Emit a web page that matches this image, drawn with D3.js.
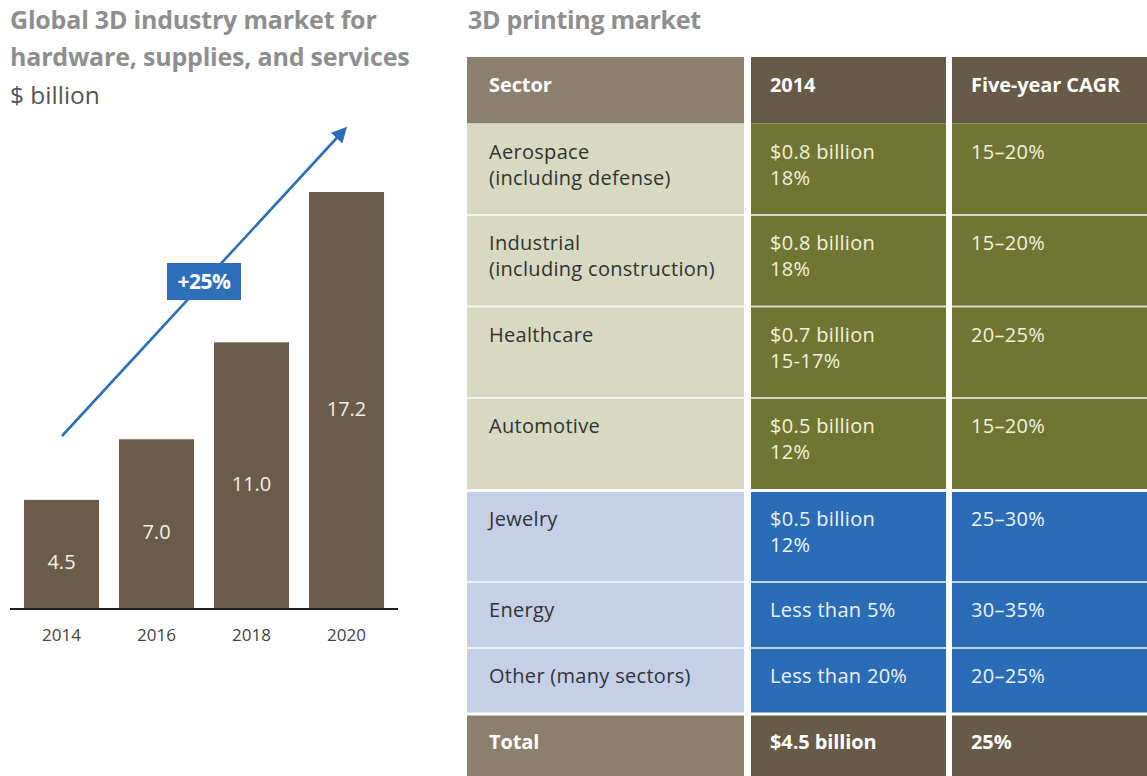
<!DOCTYPE html>
<html>
<head>
<meta charset="utf-8">
<script src="https://cdn.jsdelivr.net/npm/d3@7/dist/d3.min.js"></script>
<style>
  body { margin: 0; background: #fff; }
  svg { display: block; font-family: "Open Sans", Roboto, sans-serif; }
</style>
</head>
<body>
<svg id="chart"></svg>
<script>
// left chart data
const years = ['2014', '2016', '2018', '2020'];
const marketValues = [4.5, 7.0, 11.0, 17.2];
const growthLabel = '+25%';

// table data
const columns = ['Sector', '2014', 'Five-year CAGR'];
const sectors = [
  ['Aerospace', '(including defense)'],
  ['Industrial', '(including construction)'],
  ['Healthcare'],
  ['Automotive'],
  ['Jewelry'],
  ['Energy'],
  ['Other (many sectors)']
];
const values2014 = [
  ['$0.8 billion', '18%'],
  ['$0.8 billion', '18%'],
  ['$0.7 billion', '15-17%'],
  ['$0.5 billion', '12%'],
  ['$0.5 billion', '12%'],
  ['Less than 5%'],
  ['Less than 20%']
];
const cagr = ['15–20%', '15–20%', '20–25%', '15–20%', '25–30%', '30–35%', '20–25%'];
const sectorGroup = ['olive', 'olive', 'olive', 'olive', 'blue', 'blue', 'blue'];
const totalRow = ['Total', '$4.5 billion', '25%'];

const W = 1147, H = 776;
const svg = d3.select('#chart').attr('width', W).attr('height', H);

//
// left: bar chart
//
const baseY = 609;
const xScale = d3.scaleBand()
  .domain(years)
  .range([14, 394])
  .paddingInner(0.21)
  .paddingOuter(0.105);

const yScale = d3.scaleLinear()
  .domain([0, 17.2])
  .range([baseY, 192]);

const titleGrey = '#8f8f8f';
svg.append('text')
  .attr('x', 10).attr('y', 29)
  .attr('font-size', 25).attr('font-weight', 700).attr('fill', titleGrey)
  .attr('letter-spacing', -0.2)
  .text('Global 3D industry market for');
svg.append('text')
  .attr('x', 10).attr('y', 66)
  .attr('font-size', 25).attr('font-weight', 700).attr('fill', titleGrey)
  .attr('letter-spacing', -0.2)
  .text('hardware, supplies, and services');
svg.append('text')
  .attr('x', 10).attr('y', 104)
  .attr('font-size', 24.5).attr('fill', '#555')
  .text('$ billion');

svg.selectAll('.bar')
  .data(marketValues)
  .enter()
  .append('rect')
  .attr('class', 'bar')
  .attr('x', (d, i) => xScale(years[i]))
  .attr('y', d => yScale(d))
  .attr('width', xScale.bandwidth())
  .attr('height', d => baseY - yScale(d))
  .attr('fill', '#6a5c48');

svg.selectAll('.bar-label')
  .data(marketValues)
  .enter()
  .append('text')
  .attr('class', 'bar-label')
  .attr('x', (d, i) => xScale(years[i]) + xScale.bandwidth() / 2)
  .attr('y', d => (yScale(d) + baseY) / 2 + 15)
  .attr('text-anchor', 'middle')
  .attr('font-size', 20)
  .attr('fill', '#f2efe6')
  .text(d => d.toFixed(1));

// x軸
const xAxis = d3.axisBottom(xScale).tickSize(0).tickPadding(20);
const gx = svg.append('g')
  .attr('transform', `translate(0, ${baseY})`)
  .call(xAxis);
gx.select('.domain').remove();
gx.selectAll('text').attr('font-size', 17).attr('fill', '#444')
  .attr('font-family', '"Open Sans", sans-serif');
svg.append('line')
  .attr('x1', 10).attr('x2', 398)
  .attr('y1', baseY).attr('y2', baseY)
  .attr('stroke', '#222').attr('stroke-width', 2);

// growth arrow
const blue = '#2e6fba';
svg.append('defs').append('marker')
  .attr('id', 'head')
  .attr('viewBox', '0 0 10 10')
  .attr('refX', 8).attr('refY', 5)
  .attr('markerWidth', 6).attr('markerHeight', 6)
  .attr('markerUnits', 'strokeWidth')
  .attr('orient', 'auto')
  .append('path')
  .attr('d', 'M0,0 L10,5 L0,10 Z')
  .attr('fill', blue);
svg.append('line')
  .attr('x1', 62).attr('y1', 436)
  .attr('x2', 345).attr('y2', 129)
  .attr('stroke', blue).attr('stroke-width', 2.6)
  .attr('marker-end', 'url(#head)');
svg.append('rect')
  .attr('x', 167).attr('y', 263).attr('width', 74).attr('height', 37)
  .attr('fill', blue);
svg.append('text')
  .attr('x', 204).attr('y', 289)
  .attr('text-anchor', 'middle')
  .attr('font-size', 21).attr('font-weight', 700).attr('fill', '#fff')
  .attr('letter-spacing', -0.5)
  .text(growthLabel);

//
// right: table
//
svg.append('text')
  .attr('x', 468).attr('y', 29)
  .attr('font-size', 25).attr('font-weight', 700).attr('fill', titleGrey)
  .attr('letter-spacing', -0.3)
  .text('3D printing market');

const colX = [467, 751, 952];
const colW = [277, 195, 195];
const textX = [489, 770, 971];
const palette = {
  head: ['#8b7f6e', '#675a46', '#675a46'],
  olive: ['#d7d9c1', '#6f7634', '#6f7634'],
  blue: ['#c4cfe8', '#2b6cb6', '#2b6cb6']
};
const textColor = {
  head: ['#fff', '#fff', '#fff'],
  olive: ['#333', '#f3f0dc', '#f3f0dc'],
  blue: ['#333', '#eef3fb', '#eef3fb']
};

const rows = [];
let y = 57;
rows.push({ cells: columns.map(c => [c]), group: 'head', bold: true, y: y, h: 66.5 });
y += 66.5;
sectors.forEach((s, i) => {
  const cells = [s, values2014[i], [cagr[i]]];
  const lines = d3.max(cells, c => c.length);
  const h = 66 + 25.5 * (lines - 1);
  const groupStart = i > 0 && sectorGroup[i] !== sectorGroup[i - 1];
  if (groupStart) y += 1;
  rows.push({ cells: cells, group: sectorGroup[i], bold: false, y: y, h: h, sepTop: i > 0, groupStart: groupStart });
  y += h;
});
rows.push({ cells: totalRow.map(c => [c]), group: 'head', bold: true, y: y, h: 66, sepTop: true, groupStart: true });

const rowG = svg.selectAll('.row')
  .data(rows)
  .enter()
  .append('g')
  .attr('class', 'row');

rowG.each(function(r) {
  const g = d3.select(this);
  r.cells.forEach((lines, ci) => {
    g.append('rect')
      .attr('x', colX[ci]).attr('y', r.y)
      .attr('width', colW[ci]).attr('height', r.h)
      .attr('fill', palette[r.group][ci]);
    if (r.sepTop) {
      g.append('line')
        .attr('x1', colX[ci]).attr('x2', colX[ci] + colW[ci])
        .attr('y1', r.y).attr('y2', r.y)
        .attr('stroke', '#fff')
        .attr('stroke-opacity', r.groupStart ? 1 : 0.7)
        .attr('stroke-width', r.groupStart ? 3 : 2);
    }
    g.selectAll(null)
      .data(lines)
      .enter()
      .append('text')
      .attr('x', textX[ci])
      .attr('y', (d, li) => r.y + 35 + li * 26)
      .attr('font-size', 20)
      .attr('font-weight', r.bold ? 700 : 400)
      .attr('letter-spacing', r.bold ? -0.1 : 0.3)
      .attr('fill', textColor[r.group][ci])
      .text(d => d);
  });
});
</script>
</body>
</html>
